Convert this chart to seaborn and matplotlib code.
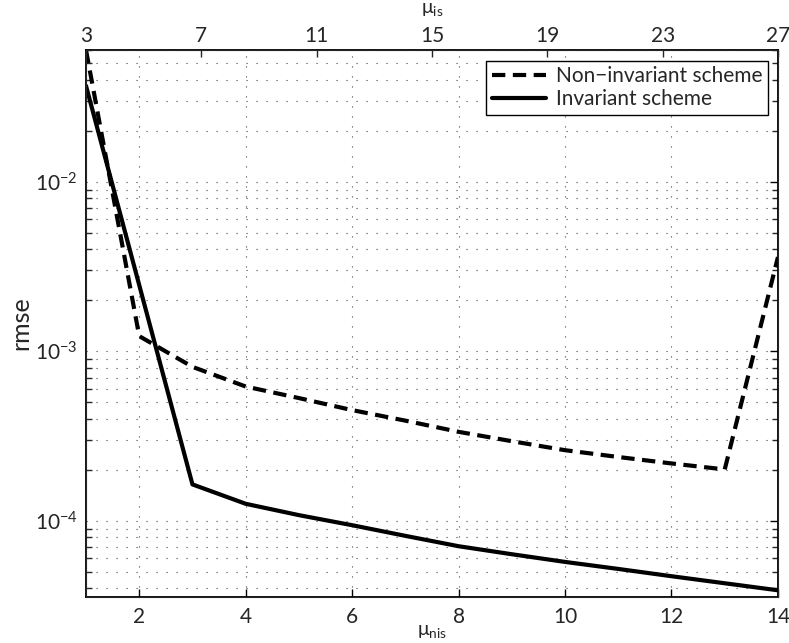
import numpy as np
import pandas as pd
import matplotlib
matplotlib.use("Agg")
import matplotlib.pyplot as plt
import matplotlib.ticker as mticker
import seaborn as sns

# values (log y axis)
mu_nis = [1, 2, 3, 4, 5, 6, 7, 8, 9, 10, 11, 12, 13, 14]
rmse_noninv = [6.0e-2, 1.23e-3, 8.1e-4, 6.2e-4, 5.3e-4, 4.5e-4, 3.9e-4,
               3.35e-4, 2.95e-4, 2.61e-4, 2.38e-4, 2.18e-4, 2.01e-4, 3.6e-3]
rmse_inv = [3.69e-2, 2.46e-3, 1.64e-4, 1.26e-4, 1.08e-4, 9.42e-5, 8.15e-5,
            7.08e-5, 6.35e-5, 5.72e-5, 5.2e-5, 4.71e-5, 4.28e-5, 3.89e-5]
mu_is_ticks = [3, 7, 11, 15, 19, 23, 27]

sns.set_style("white")
plt.rcParams['font.family'] = ['Lato', 'DejaVu Sans']
plt.rcParams['mathtext.default'] = 'regular'

df = pd.DataFrame({"mu": mu_nis, "noninv": rmse_noninv, "inv": rmse_inv})

fig = plt.figure(figsize=(7.89, 6.43), dpi=100)
ax = fig.add_axes([0.109, 0.0715, 0.877, 0.8507])

sns.lineplot(data=df, x="mu", y="noninv", ax=ax, color="black", lw=3.0,
             label="Non\u2212invariant scheme")
ax.lines[-1].set_dashes((3.2, 1.8))
sns.lineplot(data=df, x="mu", y="inv", ax=ax, color="black", lw=3.0,
             label="Invariant scheme")

ax.set_yscale("log")
ax.set_xlim(1, 14)
ax.set_ylim(3.55e-5, 0.06)
ax.set_xticks([2, 4, 6, 8, 10, 12, 14])
ax.yaxis.set_major_locator(mticker.LogLocator(base=10, numticks=10))
ax.yaxis.set_minor_locator(mticker.LogLocator(base=10, subs=np.arange(2, 10), numticks=20))
ax.yaxis.set_minor_formatter(mticker.NullFormatter())

grid_style = dict(color="#444444", lw=0.8, linestyle=(0, (1, 8)))
ax.grid(True, which="major", axis="x", **grid_style)
ax.grid(True, which="both", axis="y", **grid_style)

ax.tick_params(axis="both", which="major", direction="in", length=6, width=1,
               labelsize=15, top=True, right=True, color="black")
ax.tick_params(axis="y", which="minor", direction="in", length=4, width=1,
               left=True, right=True)
ax.tick_params(axis="x", which="major", pad=7)
ax.tick_params(axis="y", which="major", pad=6)
for s in ax.spines.values():
    s.set_linewidth(1.3)
    s.set_color("black")

ax.set_xlabel(r"$\mu_{nis}$", fontsize=14, labelpad=-3)
ax.set_ylabel("rmse", fontsize=18, labelpad=2)

# top axis for mu_is
ax2 = ax.twiny()
ax2.set_xlim(3, 27)
ax2.set_xticks(mu_is_ticks)
ax2.tick_params(axis="x", direction="in", length=5, width=1, labelsize=15, pad=3)
ax2.set_xlabel(r"$\mu_{is}$", fontsize=14, va="center")
ax2.xaxis.set_label_coords(0.5, 1.074)

leg = ax.legend(loc="upper right", bbox_to_anchor=(0.9855, 0.98), borderaxespad=0,
                fontsize=15, handlelength=2.6, handletextpad=0.5, fancybox=False,
                framealpha=1, edgecolor="black", borderpad=0.25, labelspacing=0.15)
leg.get_frame().set_linewidth(1.0)

fig.savefig("out.png", dpi=100)
